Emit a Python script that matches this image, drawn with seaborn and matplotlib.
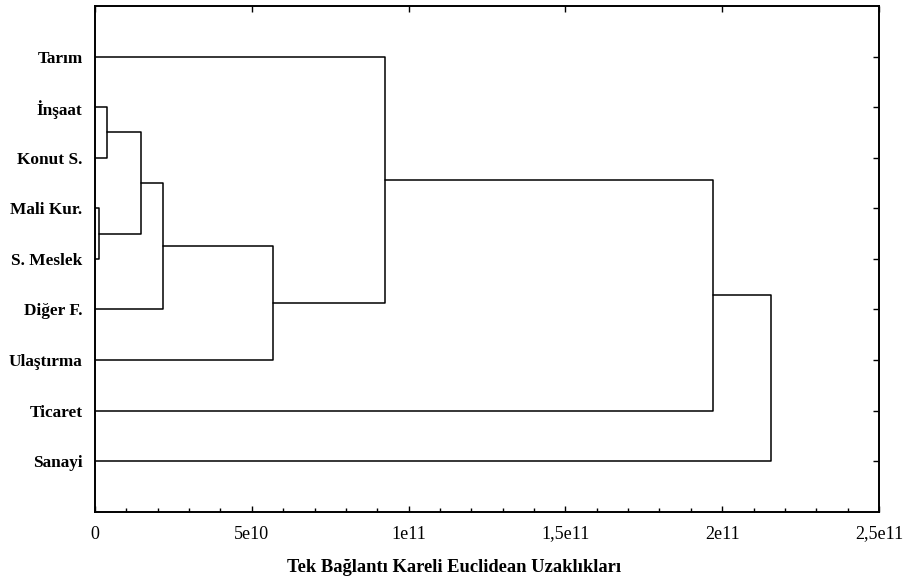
import seaborn as sns
import matplotlib.pyplot as plt
import matplotlib.ticker as mticker
import pandas as pd
import numpy as np

# leaf order (top to bottom) as shown in the tree
leaves = ["Tarım", "İnşaat", "Konut S.", "Mali Kur.", "S. Meslek",
          "Diğer F.", "Ulaştırma", "Ticaret", "Sanayi"]

# linkage steps: node ids 0..8 are leaves, 9.. are the merged clusters
merge_a = [3, 1, 10, 11, 12, 0, 14, 15]
merge_b = [4, 2, 9, 5, 6, 13, 7, 8]
merge_dist = [1.4e9, 3.9e9, 1.45e10, 2.18e10, 5.68e10, 9.24e10, 1.972e11, 2.156e11]

x_ticks = [0, 5e10, 1e11, 1.5e11, 2e11, 2.5e11]
x_tick_labels = ["0", "5e10", "1e11", "1,5e11", "2e11", "2,5e11"]


def build_segments(leaves, merge_a, merge_b, merge_dist):
    # position and height of every node
    pos = {i: i + 1 for i in range(len(leaves))}
    height = {i: 0.0 for i in range(len(leaves))}
    rows = []
    seg = 0
    for k, (a, b, d) in enumerate(zip(merge_a, merge_b, merge_dist)):
        node = len(leaves) + k
        # elbow: child a -> out to d, down to child b, back to child b height
        pts = [(height[a], pos[a]), (d, pos[a]), (d, pos[b]), (height[b], pos[b])]
        for px, py in pts:
            rows.append({"seg": seg, "x": px, "y": py})
        seg += 1
        pos[node] = (pos[a] + pos[b]) / 2
        height[node] = d
    return pd.DataFrame(rows)


segments = build_segments(leaves, merge_a, merge_b, merge_dist)

sns.set_style("ticks")
plt.rcParams["font.family"] = ["Liberation Serif", "DejaVu Serif"]

fig = plt.figure(figsize=(9.06, 5.81), dpi=100)
ax = fig.add_axes([0.1049, 0.1193, 0.8653, 0.8704])

sns.lineplot(data=segments, x="x", y="y", units="seg", estimator=None,
             sort=False, color="black", linewidth=1.1, ax=ax)

ax.set_xlim(0, 2.5e11)
ax.set_ylim(len(leaves) + 1, 0)

ax.set_xticks(x_ticks)
ax.set_xticklabels(x_tick_labels, fontsize=13)
ax.xaxis.set_minor_locator(mticker.MultipleLocator(1e10))
ax.set_yticks(range(1, len(leaves) + 1))
ax.set_yticklabels(leaves, fontsize=12.4, fontweight="bold")

ax.tick_params(axis="x", which="major", direction="in", length=4, width=1,
               top=True, pad=10, colors="black")
ax.tick_params(axis="x", which="minor", direction="in", length=3, width=1,
               top=False, bottom=True, colors="black")
ax.tick_params(axis="y", which="major", direction="in", length=4, width=1,
               left=False, right=True, pad=9, colors="black")

for sp in ax.spines.values():
    sp.set_visible(True)
    sp.set_linewidth(1.4)
    sp.set_color("black")

ax.set_xlabel("Tek Bağlantı Kareli Euclidean Uzaklıkları", fontsize=13.3,
              fontweight="bold", color="black")
ax.xaxis.set_label_coords(0.458, -0.094)
ax.set_ylabel("")

fig.savefig("out.png", dpi=100)
